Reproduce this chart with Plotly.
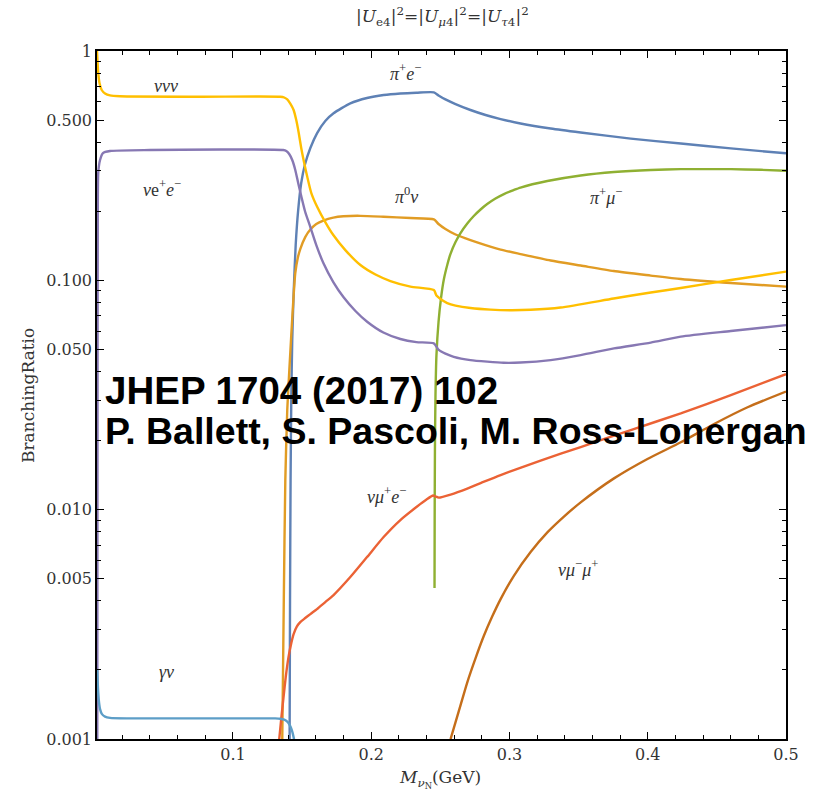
import plotly.graph_objects as go

# Heavy neutral lepton branching ratios vs mass, equal mixing |Ue4|^2=|Umu4|^2=|Utau4|^2

# nu nu nu
x_vvv = [0.0017, 0.0021, 0.0026, 0.0035, 0.0051, 0.0075, 0.0111, 0.0184, 0.0763, 0.1342, 0.1371,
         0.1393, 0.1415, 0.1439, 0.1458, 0.1476, 0.1494, 0.1511, 0.1538, 0.1567, 0.1610, 0.1668,
         0.1726, 0.1813, 0.1922, 0.2031, 0.2139, 0.2284, 0.2453, 0.2472, 0.2501, 0.2550, 0.2610,
         0.2718, 0.2863, 0.3008, 0.3153, 0.3370, 0.3754, 0.4022, 0.4239, 0.4601, 0.5000]
y_vvv = [1.0, 0.895, 0.802, 0.725, 0.676, 0.653, 0.640, 0.6347, 0.632, 0.632, 0.627,
         0.615, 0.590, 0.553, 0.500, 0.439, 0.3775, 0.3347, 0.2822, 0.2403, 0.2088, 0.1795,
         0.1576, 0.1355, 0.1166, 0.1060, 0.0993, 0.0939, 0.0907, 0.0858, 0.0829, 0.0796, 0.0776,
         0.0757, 0.0745, 0.0741, 0.0744, 0.0761, 0.0833, 0.0885, 0.0926, 0.1003, 0.1092]

# nu e+ e-
x_vee = [0.0019, 0.0020, 0.0021, 0.00225, 0.0026, 0.0039, 0.0060, 0.0111, 0.0400, 0.1364, 0.1386,
         0.1407, 0.1429, 0.1451, 0.1472, 0.1494, 0.1523, 0.1560, 0.1603, 0.1654, 0.1726, 0.1799,
         0.1886, 0.1973, 0.2088, 0.2211, 0.2327, 0.2453, 0.2489, 0.2537, 0.2597, 0.2718, 0.2839,
         0.2957, 0.3080, 0.3298, 0.3515, 0.3756, 0.4022, 0.4239, 0.4601, 0.5000]
y_vee = [0.0008, 0.005, 0.04, 0.16, 0.2937, 0.3347, 0.359, 0.3664, 0.370, 0.370, 0.3664,
         0.3554, 0.3347, 0.3029, 0.2657, 0.2332, 0.1986, 0.1708, 0.1425, 0.1190, 0.0983, 0.0846,
         0.0735, 0.0658, 0.0592, 0.0555, 0.0538, 0.0531, 0.0497, 0.0479, 0.0464, 0.0449, 0.0442,
         0.0437, 0.0438, 0.0449, 0.0472, 0.0505, 0.0535, 0.0568, 0.0601, 0.0638]

# pi+ e-
x_pie = [0.1410, 0.1413, 0.1417, 0.1422, 0.1429, 0.1440, 0.1454, 0.1472, 0.1494, 0.1520, 0.1560,
         0.1608, 0.1668, 0.1728, 0.1849, 0.1970, 0.2090, 0.2211, 0.2327, 0.2453, 0.2487, 0.2537,
         0.2610, 0.2718, 0.2827, 0.2936, 0.3080, 0.3298, 0.3515, 0.3877, 0.4239, 0.4601, 0.5000]
y_pie = [0.001, 0.00403, 0.01346, 0.0301, 0.0549, 0.0907, 0.1425, 0.2025, 0.2657, 0.3183, 0.3775,
         0.4376, 0.4952, 0.5349, 0.5913, 0.6238, 0.6427, 0.6527, 0.6579, 0.6606, 0.640, 0.615,
         0.587, 0.553, 0.526, 0.505, 0.483, 0.459, 0.441, 0.415, 0.395, 0.376, 0.358]

# pi0 nu
x_pi0 = [0.1357, 0.1368, 0.1379, 0.1393, 0.1408, 0.1422, 0.1437, 0.1451, 0.1469, 0.1487, 0.1523,
         0.1560, 0.1603, 0.1654, 0.1726, 0.1799, 0.1922, 0.2088, 0.2284, 0.2453, 0.2487, 0.2537,
         0.2610, 0.2718, 0.2827, 0.2936, 0.3080, 0.3298, 0.3515, 0.3754, 0.4022, 0.4239, 0.4601,
         0.5000]
y_pi0 = [0.001, 0.00403, 0.01346, 0.0272, 0.0406, 0.0577, 0.0820, 0.1076, 0.1252, 0.1369, 0.1544,
         0.1665, 0.1760, 0.1823, 0.1878, 0.1903, 0.1911, 0.1894, 0.1869, 0.1845, 0.1760, 0.1674,
         0.1584, 0.1498, 0.1425, 0.1362, 0.1302, 0.1220, 0.1160, 0.1098, 0.1049, 0.1013, 0.0973,
         0.0939]

# pi+ mu-
x_pimu = [0.2458, 0.2459, 0.2461, 0.2465, 0.2472, 0.2487, 0.2505, 0.2526, 0.2552, 0.2573, 0.2610,
          0.2646, 0.2695, 0.2742, 0.2791, 0.2839, 0.2899, 0.2960, 0.3030, 0.3080, 0.3274, 0.3515,
          0.3756, 0.4022, 0.4239, 0.4601, 0.4818, 0.5000]
y_pimu = [0.00455, 0.00901, 0.0182, 0.0316, 0.0472, 0.0658, 0.0837, 0.1013, 0.1178, 0.1302, 0.1469,
          0.1608, 0.1769, 0.1907, 0.2036, 0.2151, 0.2274, 0.2378, 0.2475, 0.2539, 0.2710, 0.2865,
          0.2967, 0.3029, 0.3053, 0.3053, 0.3034, 0.3006]

# nu mu+ e-
x_vmue = [0.1335, 0.1350, 0.1366, 0.1382, 0.1402, 0.1422, 0.1439, 0.1462, 0.1487, 0.1523, 0.1560,
          0.1608, 0.1668, 0.1728, 0.1849, 0.1970, 0.2090, 0.2211, 0.2332, 0.2400, 0.2448, 0.2465,
          0.2489, 0.2574, 0.2695, 0.2791, 0.2936, 0.3225, 0.3515, 0.3877, 0.4239, 0.4601, 0.5000]
y_vmue = [0.001, 0.001233, 0.001523, 0.001862, 0.002276, 0.002619, 0.002868, 0.003092, 0.003235,
          0.003368, 0.003505, 0.003685, 0.003954, 0.004242, 0.005082, 0.006212, 0.007597, 0.009010,
          0.01032, 0.01107, 0.01152, 0.01141, 0.01129, 0.01164, 0.01236, 0.01306, 0.01416, 0.01637,
          0.01875, 0.02224, 0.0263, 0.0316, 0.0390]

# nu mu- mu+
x_vmumu = [0.2574, 0.2632, 0.2695, 0.2755, 0.2815, 0.2875, 0.2936, 0.3032, 0.3153, 0.3274, 0.3394,
           0.3515, 0.3756, 0.3998, 0.4239, 0.4480, 0.4722, 0.5000]
y_vmumu = [0.001, 0.001312, 0.001767, 0.002253, 0.002818, 0.003418, 0.004074, 0.005148, 0.006534,
           0.007962, 0.009331, 0.01076, 0.01369, 0.01664, 0.01967, 0.02364, 0.02796, 0.03274]

# gamma nu
x_gv = [0.0019, 0.0024, 0.0030, 0.0039, 0.0053, 0.0075, 0.0111, 0.0256, 0.1306, 0.1342, 0.1371,
        0.1393, 0.1411, 0.1426, 0.1439, 0.1444]
y_gv = [0.0020, 0.001667, 0.001478, 0.001350, 0.001284, 0.001252, 0.001236, 0.001230, 0.001230,
        0.001226, 0.001215, 0.001191, 0.001150, 0.001093, 0.001019, 0.000979]

series = [
    (x_pie, y_pie, "#5E81B5"),
    (x_pi0, y_pi0, "#E19C24"),
    (x_pimu, y_pimu, "#8FB032"),
    (x_vmue, y_vmue, "#EB6235"),
    (x_vee, y_vee, "#8778B3"),
    (x_vmumu, y_vmumu, "#C56E1A"),
    (x_gv, y_gv, "#5D9EC7"),
    (x_vvv, y_vvv, "#FFBF00"),
]

# curve labels: (text, pixel x, pixel y)
labels = [
    ("<i>ννν</i>", 166, 86),
    ("<i>ν</i>e<sup>+</sup><i>e</i><sup>−</sup>", 162, 188),
    ("<i>π</i><sup>+</sup><i>e</i><sup>−</sup>", 405, 72),
    ("<i>π</i><sup>0</sup><i>ν</i>", 406, 195),
    ("<i>π</i><sup>+</sup><i>μ</i><sup>−</sup>", 606, 196),
    ("<i>νμ</i><sup>+</sup><i>e</i><sup>−</sup>", 386, 496),
    ("<i>νμ</i><sup>−</sup><i>μ</i><sup>+</sup>", 578, 568),
    ("<i>γν</i>", 166, 672),
]

W, H = 814, 793
L, R, T, B = 97, 786, 51, 739

y_major = [1, 0.5, 0.1, 0.05, 0.01, 0.005, 0.001]
y_major_text = ["1", "0.500", "0.100", "0.050", "0.010", "0.005", "0.001"]
y_minor = [m * d for d in (0.001, 0.01, 0.1) for m in (2, 3, 4, 6, 7, 8, 9)]
x_major = [0.1, 0.2, 0.3, 0.4, 0.5]
x_minor = [round(0.02 * i, 2) for i in range(1, 25) if i % 5 != 0]

fig = go.Figure()
for xs, ys, col in series:
    fig.add_trace(go.Scatter(x=xs, y=ys, mode="lines",
                             line=dict(color=col, width=2.4, shape="spline", smoothing=0.6),
                             showlegend=False, hoverinfo="skip"))

def px2paper(px, py):
    return (px - L) / (R - L), (B - py) / (B - T)

annotations = []
for txt, px, py in labels:
    ax, ay = px2paper(px, py)
    annotations.append(dict(text=txt, x=ax, y=ay, xref="paper", yref="paper",
                            showarrow=False, xanchor="center", yanchor="middle",
                            font=dict(family="Liberation Serif", size=18, color="#333333")))

for txt, py, fs in [("JHEP 1704 (2017) 102", 390, 38.5),
                    ("P. Ballett, S. Pascoli, M. Ross-Lonergan", 431, 37.5)]:
    ax, ay = px2paper(103, py)
    annotations.append(dict(text="<b>" + txt + "</b>", x=ax, y=ay, xref="paper", yref="paper",
                            showarrow=False, xanchor="left", yanchor="middle",
                            font=dict(family="Liberation Sans", size=fs, color="black")))

ax, ay = px2paper(442, 17)
annotations.append(dict(
    text="|<i>U</i><sub>e4</sub>|<sup>2</sup>=|<i>U</i><sub><i>μ</i>4</sub>|<sup>2</sup>=|<i>U</i><sub><i>τ</i>4</sub>|<sup>2</sup>",
    x=ax, y=ay, xref="paper", yref="paper", showarrow=False,
    xanchor="center", yanchor="middle",
    font=dict(family="DejaVu Serif", size=17, color="#333333")))

ax, ay = px2paper(440, 779)
annotations.append(dict(
    text="<i>M</i><sub><i>ν</i><sub>N</sub></sub>(GeV)",
    x=ax, y=ay, xref="paper", yref="paper", showarrow=False,
    xanchor="center", yanchor="middle",
    font=dict(family="DejaVu Serif", size=17, color="#333333")))

ax, ay = px2paper(28, 396)
annotations.append(dict(
    text="BranchingRatio", textangle=-90,
    x=ax, y=ay, xref="paper", yref="paper", showarrow=False,
    xanchor="center", yanchor="middle",
    font=dict(family="DejaVu Serif", size=17, color="#333333")))

tickfont = dict(family="DejaVu Serif", size=16, color="#333333")

fig.update_layout(
    width=W, height=H,
    margin=dict(l=L, r=W - R, t=T, b=H - B, pad=0),
    paper_bgcolor="white", plot_bgcolor="white",
    annotations=annotations,
    xaxis=dict(range=[0.0017, 0.5], showgrid=False, zeroline=False,
               showline=True, linecolor="black", linewidth=1.5, mirror="ticks",
               ticks="inside", ticklen=7, tickwidth=1, tickcolor="black",
               tickmode="array", tickvals=x_major, ticktext=["0.1", "0.2", "0.3", "0.4", "0.5"],
               tickfont=tickfont,
               minor=dict(tickmode="array", tickvals=x_minor, ticks="inside",
                          ticklen=4, tickwidth=1, tickcolor="black", showgrid=False)),
    yaxis=dict(type="log", range=[-3, 0], showgrid=False, zeroline=False,
               showline=True, linecolor="black", linewidth=1.5, mirror="ticks",
               ticks="inside", ticklen=7, tickwidth=1, tickcolor="black",
               tickmode="array", tickvals=y_major, ticktext=y_major_text,
               tickfont=tickfont,
               minor=dict(tickmode="array", tickvals=y_minor, ticks="inside",
                          ticklen=4, tickwidth=1, tickcolor="black", showgrid=False)),
)

fig.write_html("out.html")
